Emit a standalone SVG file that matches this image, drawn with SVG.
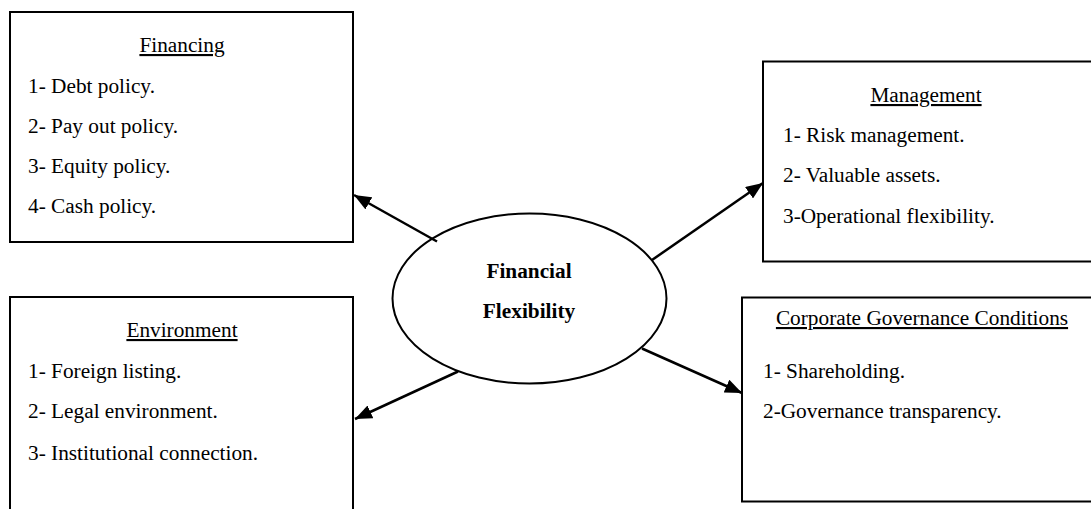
<svg xmlns="http://www.w3.org/2000/svg" width="1091" height="509" viewBox="0 0 1091 509">
<style>
.box{fill:#fff;stroke:#000;stroke-width:2}
text{font-family:'Liberation Serif','DejaVu Serif',serif;font-size:21.3px;fill:#000}
.h{text-anchor:middle;text-decoration:underline}
.b{font-weight:bold;text-anchor:middle}
.c{stroke:#000;stroke-width:2.5;fill:none;marker-end:url(#ah)}
</style>
<defs>
<marker id="ah" markerUnits="userSpaceOnUse" markerWidth="18" markerHeight="14" refX="17" refY="7" orient="auto">
<path d="M0,0 L17,7 L0,14 Z" fill="#000"/>
</marker>
</defs>
<g id="financing">
<rect class="box" x="10" y="12" width="343" height="230"/>
<text class="h" x="182" y="52">Financing</text>
<text x="28" y="93">1- Debt policy.</text>
<text x="28" y="133">2- Pay out policy.</text>
<text x="28" y="173">3- Equity policy.</text>
<text x="28" y="213">4- Cash policy.</text>
</g>
<g id="management">
<rect class="box" x="763" y="61.5" width="340" height="200"/>
<text class="h" x="926" y="102">Management</text>
<text x="783" y="142">1- Risk management.</text>
<text x="783" y="182">2- Valuable assets.</text>
<text x="783" y="223">3-Operational flexibility.</text>
</g>
<g id="environment">
<rect class="box" x="10" y="297" width="343" height="230"/>
<text class="h" x="182" y="337">Environment</text>
<text x="28" y="378">1- Foreign listing.</text>
<text x="28" y="418">2- Legal environment.</text>
<text x="28" y="460">3- Institutional connection.</text>
</g>
<g id="governance">
<rect class="box" x="742" y="297.5" width="360" height="204"/>
<text class="h" x="922" y="325">Corporate Governance Conditions</text>
<text x="763" y="378">1- Shareholding.</text>
<text x="763" y="418">2-Governance transparency.</text>
</g>
<g id="center">
<ellipse cx="529.5" cy="298.5" rx="137" ry="85" fill="#fff" stroke="#000" stroke-width="2"/>
<text class="b" x="529" y="278">Financial</text>
<text class="b" x="529" y="318">Flexibility</text>
</g>
<g id="connectors">
<line class="c" x1="437" y1="241.5" x2="354" y2="195"/>
<line class="c" x1="652" y1="260" x2="763" y2="183"/>
<line class="c" x1="458" y1="371.5" x2="355" y2="419"/>
<line class="c" x1="642" y1="348.5" x2="742" y2="393"/>
</g>
</svg>
